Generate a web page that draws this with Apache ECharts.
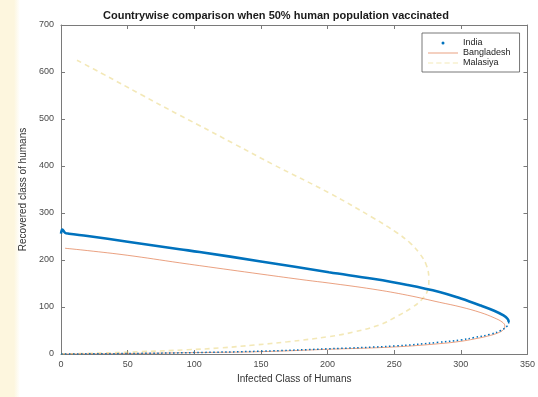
<!DOCTYPE html>
<html>
<head>
<meta charset="utf-8">
<script src="https://cdn.jsdelivr.net/npm/echarts@6/dist/echarts.min.js"></script>
<style>
  html, body { margin: 0; padding: 0; background: #fff; }
  #chart {
    width: 538px;
    height: 397px;
    background: linear-gradient(to right, #fdf6de 0, #fdf6de 14px, #ffffff 20px);
  }
</style>
</head>
<body>
<div id="chart"></div>
<script>
// India: upper branch (solid, dense dots) and lower branch (sparse dots)
const indiaUpperI = [0, 1, 3, 6, 20, 50, 89, 104, 150, 201, 234, 260, 284, 300, 315, 325, 332, 335, 336]
const indiaUpperR = [256, 265, 258, 256, 251, 239, 223, 217, 197, 174, 160, 147, 132, 118, 103, 92, 82, 75, 68]
const indiaLowerI = [336, 335, 330, 322, 310, 300, 284, 250, 200, 150, 100, 50, 0]
const indiaLowerR = [68, 60, 50, 42, 35, 30, 25, 17, 11, 6, 3, 1, 0]

// Bangladesh
const bangladeshI = [3, 20, 50, 89, 104, 150, 184, 201, 234, 260, 284, 300, 315, 325, 331, 333,
  332, 328, 320, 310, 300, 284, 250, 200, 150, 100, 50, 0]
const bangladeshR = [225, 220, 210, 194, 188, 170, 157, 151, 138, 125, 110, 100, 88, 77, 68, 60,
  52, 45, 38, 32, 27, 22, 15, 10, 5, 3, 1, 0]

// Malasiya
const malasiyaI = [12, 30, 60, 89, 102, 130, 160, 201, 234, 252, 262, 269, 274, 276,
  275, 271, 264, 252, 239, 220, 201, 170, 145, 120, 95, 60, 30, 0]
const malasiyaR = [625, 598, 552, 508, 489, 447, 402, 343, 290, 258, 236, 214, 190, 160,
  135, 117, 100, 80, 62, 47, 37, 26, 19, 13, 9, 5, 2, 0]

// axes
const xMin = 0, xMax = 350, xStep = 50
const yMin = 0, yMax = 700, yStep = 100

const zip = (a, b) => a.map((v, i) => [v, b[i]])

const fontFamily = '"Liberation Sans", Arial, sans-serif'
const axisColor = '#7a7a7a'
const axisLine = { show: true, onZero: false, lineStyle: { color: axisColor, width: 1 } }
const axisTick = { show: true, inside: true, length: 4, lineStyle: { color: axisColor } }
const axisLabel = { color: '#4a4a4a', fontSize: 9, fontFamily }

const malasiyaColor = 'rgba(228,205,95,0.45)'
const bangladeshColor = 'rgba(217,83,25,0.55)'
const indiaColor = '#0072BD'

const option = {
  animation: false,
  title: {
    text: 'Countrywise comparison when 50% human population vaccinated',
    left: 98,
    top: 5,
    textStyle: { fontSize: 11, fontWeight: 'bold', color: '#1a1a1a', fontFamily }
  },
  legend: {
    orient: 'vertical',
    left: 422,
    top: 33,
    padding: [5, 9, 4, 6],
    itemWidth: 30,
    itemHeight: 3,
    itemGap: 0,
    backgroundColor: '#fff',
    borderColor: '#555',
    borderWidth: 0.8,
    borderRadius: 0,
    textStyle: { fontSize: 9, lineHeight: 10, color: '#222', fontFamily },
    data: [
      { name: 'India', icon: 'circle', itemStyle: { color: indiaColor } },
      { name: 'Bangladesh', icon: 'path://M0,0h30v1H0z', itemStyle: { color: bangladeshColor } },
      {
        name: 'Malasiya',
        icon: 'path://M0,0h5v1.2H0zM8,0h5v1.2H8zM16,0h5v1.2h-5zM24,0h5v1.2h-5z',
        itemStyle: { color: malasiyaColor }
      }
    ]
  },
  grid: { left: 61, right: 10, top: 25, bottom: 43 },
  xAxis: [
    {
      type: 'value',
      position: 'bottom',
      min: xMin,
      max: xMax,
      interval: xStep,
      axisLine,
      axisTick,
      axisLabel: Object.assign({ margin: 6 }, axisLabel),
      splitLine: { show: false },
      name: 'Infected Class of Humans',
      nameLocation: 'middle',
      nameGap: 20,
      nameTextStyle: { fontSize: 10, color: '#333', fontFamily }
    },
    {
      type: 'value',
      position: 'top',
      min: xMin,
      max: xMax,
      interval: xStep,
      axisLine,
      axisTick,
      axisLabel: { show: false },
      splitLine: { show: false }
    }
  ],
  yAxis: [
    {
      type: 'value',
      position: 'left',
      min: yMin,
      max: yMax,
      interval: yStep,
      axisLine,
      axisTick,
      axisLabel: Object.assign({ margin: 7 }, axisLabel),
      splitLine: { show: false },
      name: 'Recovered class of humans',
      nameLocation: 'middle',
      nameGap: 28,
      nameTextStyle: { fontSize: 10, color: '#333', fontFamily }
    },
    {
      type: 'value',
      position: 'right',
      min: yMin,
      max: yMax,
      interval: yStep,
      axisLine,
      axisTick,
      axisLabel: { show: false },
      splitLine: { show: false }
    }
  ],
  series: [
    {
      name: 'Malasiya',
      type: 'line',
      symbol: 'none',
      smooth: 0.4,
      itemStyle: { color: malasiyaColor },
      lineStyle: { color: malasiyaColor, width: 1.6, type: [5, 4] },
      data: zip(malasiyaI, malasiyaR),
      z: 1
    },
    {
      name: 'Bangladesh',
      type: 'line',
      symbol: 'none',
      smooth: 0.4,
      itemStyle: { color: bangladeshColor },
      lineStyle: { color: bangladeshColor, width: 1 },
      data: zip(bangladeshI, bangladeshR),
      z: 2
    },
    {
      name: 'India',
      type: 'line',
      symbol: 'none',
      smooth: 0.4,
      itemStyle: { color: indiaColor },
      lineStyle: { color: indiaColor, width: 1.5, type: [1.5, 2.5] },
      data: zip(indiaLowerI, indiaLowerR),
      z: 3
    },
    {
      name: 'India',
      type: 'line',
      symbol: 'none',
      smooth: 0.4,
      itemStyle: { color: indiaColor },
      lineStyle: { color: indiaColor, width: 2.6 },
      data: zip(indiaUpperI, indiaUpperR),
      z: 4
    }
  ]
}

const myChart = echarts.init(document.getElementById('chart'))
myChart.setOption(option)
</script>
</body>
</html>
